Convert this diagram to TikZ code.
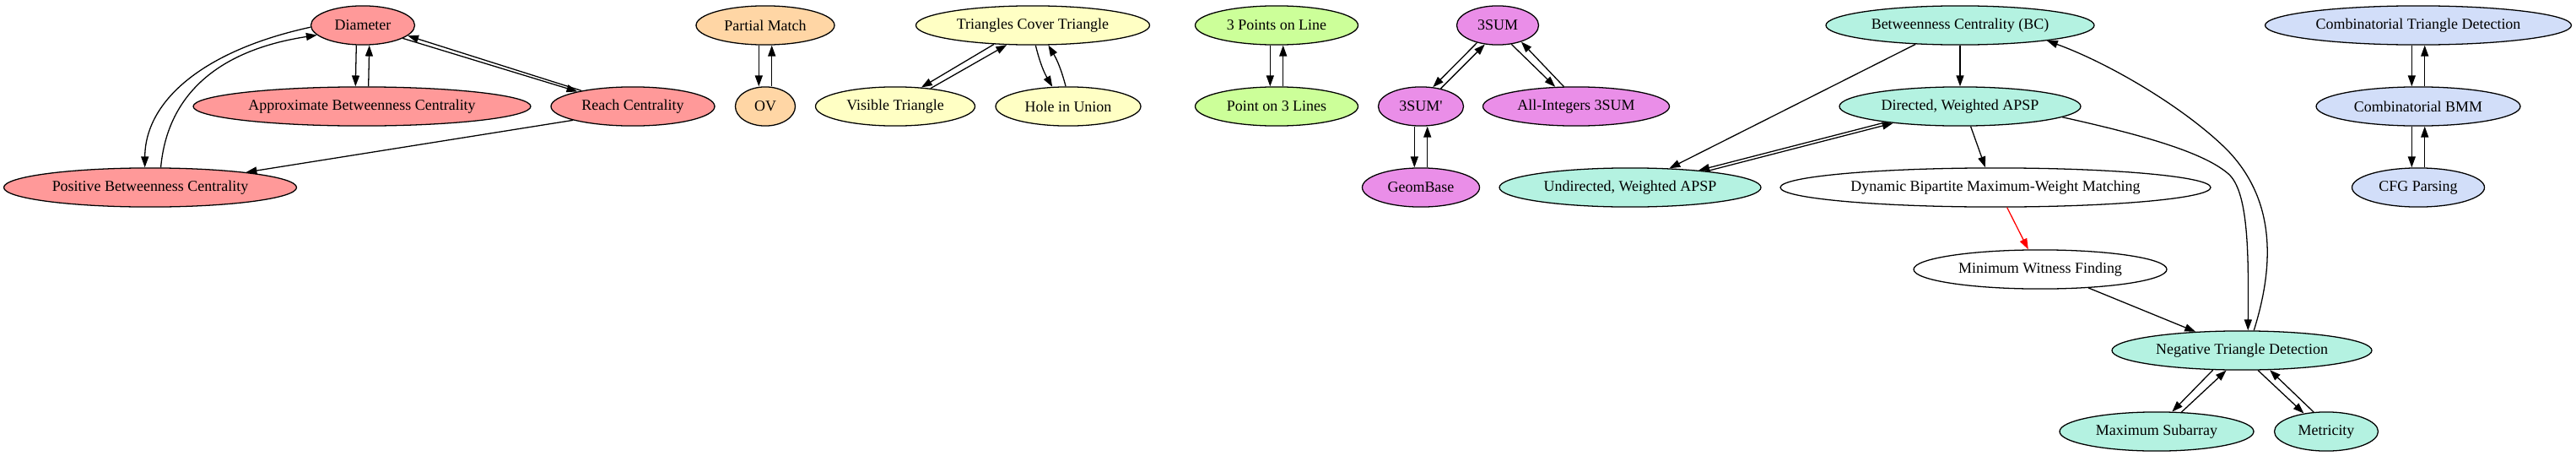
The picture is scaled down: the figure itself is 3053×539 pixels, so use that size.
\documentclass[tikz,border=0pt]{standalone}
\usepackage{fontspec}
\setmainfont{Liberation Serif}
\usetikzlibrary{arrows.meta,shapes.geometric}
\definecolor{cred}{HTML}{FF9999}
\definecolor{cpeach}{HTML}{FFD6A5}
\definecolor{cyel}{HTML}{FFFFC4}
\definecolor{cgreen}{HTML}{CCFF99}
\definecolor{cviol}{HTML}{EA8EE8}
\definecolor{cteal}{HTML}{B4F2E1}
\definecolor{cblue}{HTML}{D2DEF9}
\begin{document}
\begin{tikzpicture}[x=0.7794pt,y=-0.7794pt,
  gn/.style={ellipse,draw,line width=1pt,inner sep=0pt,minimum height=36pt,font=\fontsize{14}{16}\selectfont},
  nw/.style={minimum width={#1*0.7794pt}},
  edg/.style={-{Triangle[length=10pt,width=7pt]},line width=1pt},
  redg/.style={edg,draw=red,fill=red}
]
\useasboundingbox (0,0) rectangle (3053,539);

% nodes
\node[gn,nw=123,fill=cred] (Dia) at (430,30) {Diameter};
\node[gn,nw=400,fill=cred] (ABC) at (429,126) {Approximate Betweenness Centrality};
\node[gn,nw=194,fill=cred] (RC) at (750,126) {Reach Centrality};
\node[gn,nw=347,fill=cred] (PBC) at (178,222) {Positive Betweenness Centrality};
\node[gn,nw=164,fill=cpeach] (PM) at (907,30) {Partial Match};
\node[gn,nw=71,fill=cpeach] (OV) at (907,126) {OV};
\node[gn,nw=277,fill=cyel] (TCT) at (1224,30) {Triangles Cover Triangle};
\node[gn,nw=189,fill=cyel] (VT) at (1061,126) {Visible Triangle};
\node[gn,nw=172,fill=cyel] (HU) at (1266,126) {Hole in Union};
\node[gn,nw=193,fill=cgreen] (TPL) at (1513,30) {3 Points on Line};
\node[gn,nw=193,fill=cgreen] (PTL) at (1513,126) {Point on 3 Lines};
\node[gn,nw=97,fill=cviol] (S3) at (1775,30) {3SUM};
\node[gn,nw=101,fill=cviol] (S3p) at (1684,126) {3SUM\textquotesingle};
\node[gn,nw=221,fill=cviol] (AI) at (1868,126) {All-Integers 3SUM};
\node[gn,nw=139,fill=cviol] (GB) at (1684,222) {GeomBase};
\node[gn,nw=318,fill=cteal] (BC) at (2323,30) {Betweenness Centrality (BC)};
\node[gn,nw=286,fill=cteal] (DA) at (2323,126) {Directed, Weighted APSP};
\node[gn,nw=310,fill=cteal] (UA) at (1932,222) {Undirected, Weighted APSP};
\node[gn,nw=510,fill=white] (DB) at (2365,222) {Dynamic Bipartite Maximum-Weight Matching};
\node[gn,nw=300,fill=white] (MW) at (2418,319) {Minimum Witness Finding};
\node[gn,nw=308,fill=cteal] (NT) at (2657,415) {Negative Triangle Detection};
\node[gn,nw=230,fill=cteal] (MS) at (2556,511) {Maximum Subarray};
\node[gn,nw=123,fill=cteal] (ME) at (2757,511) {Metricity};
\node[gn,nw=363,fill=cblue] (CT) at (2866,30) {Combinatorial Triangle Detection};
\node[gn,nw=242,fill=cblue] (CB) at (2866,126) {Combinatorial BMM};
\node[gn,nw=157,fill=cblue] (CF) at (2866,222) {CFG Parsing};

% red group
\draw[edg] ([xshift=-6pt]Dia.south) -- ([xshift=-6pt]ABC.north);
\draw[edg] ([xshift=6pt]ABC.north) -- ([xshift=6pt]Dia.south);
\draw[edg] (Dia.-18) -- (RC.165.5);
\draw[edg] (RC.163.5) -- (Dia.-13);
\draw[edg] (Dia.182) .. controls (240,60) and (172,120) .. (PBC.105);
\draw[edg] (PBC.62) .. controls (198,115) and (255,60) .. (Dia.192);
\draw[edg] (RC.193) -- (PBC.9);

% peach
\draw[edg] ([xshift=-6pt]PM.south) -- ([xshift=-6pt]OV.north);
\draw[edg] ([xshift=6pt]OV.north) -- ([xshift=6pt]PM.south);

% yellow
\draw[edg] (TCT.206) -- (VT.36);
\draw[edg] (VT.27) -- (TCT.217);
\draw[edg] (TCT.-82.6) to[bend right=8] (HU.129.6);
\draw[edg] (HU.97.4) to[bend right=8] (TCT.-52);

% green
\draw[edg] ([xshift=-6pt]TPL.south) -- ([xshift=-6pt]PTL.north);
\draw[edg] ([xshift=6pt]PTL.north) -- ([xshift=6pt]TPL.south);

% violet
\draw[edg] (S3.220) -- (S3p.58);
\draw[edg] (S3p.42) -- (S3.236);
\draw[edg] (S3.-54) -- (AI.137);
\draw[edg] (AI.122) -- (S3.-35);
\draw[edg] ([xshift=-6pt]S3p.south) -- ([xshift=-6pt]GB.north);
\draw[edg] ([xshift=6pt]GB.north) -- ([xshift=6pt]S3p.south);

% teal / white
\draw[edg] (BC.203.6) -- (UA.26.6);
\draw[edg] (BC.south) -- (DA.north);
\draw[edg] (DA.192) -- (UA.14.3);
\draw[edg] (UA.12) -- (DA.194.5);
\draw[edg] (DA.-62) -- (DB.117.5);
\draw[redg] (DB.-60.5) -- (MW.121);
\draw[edg] (MW.-21) -- (NT.158);
\draw[edg] (DA.-6) .. controls (2540,160) and (2610,180) .. (2640,205)
  .. controls (2665,225) and (2665,300) .. (NT.73);
\draw[edg] (NT.59) .. controls (2700,300) and (2690,230) .. (2640,178)
  .. controls (2590,128) and (2500,75) .. (BC.-10);
\draw[edg] (NT.214) -- (MS.52);
\draw[edg] (MS.38) -- (NT.232);
\draw[edg] (NT.-51) -- (ME.141);
\draw[edg] (ME.123) -- (NT.-35);

% blue
\draw[edg] ([xshift=-6pt]CT.south) -- ([xshift=-6pt]CB.north);
\draw[edg] ([xshift=6pt]CB.north) -- ([xshift=6pt]CT.south);
\draw[edg] ([xshift=-6pt]CB.south) -- ([xshift=-6pt]CF.north);
\draw[edg] ([xshift=6pt]CF.north) -- ([xshift=6pt]CB.south);
\end{tikzpicture}
\end{document}
